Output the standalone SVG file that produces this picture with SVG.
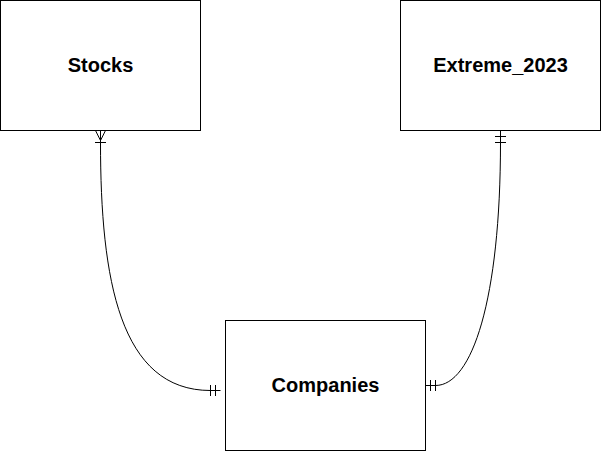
<svg xmlns="http://www.w3.org/2000/svg" width="601" height="451" viewBox="0 0 601 451">
<style>
.box{fill:#ffffff;stroke:#000000;stroke-width:1}
.lbl{font-family:"Liberation Sans",Arial,Helvetica,sans-serif;font-weight:bold;font-size:20px;fill:#000000;text-anchor:middle}
.edge{fill:none;stroke:#000000;stroke-width:1}
</style>
<rect width="601" height="451" fill="#ffffff"/>
<g id="connectors">
  <g id="edge-stocks-companies">
    <path class="edge" d="M100.5,130.5 L100.5,142.5 C100.5,280 120,390.5 210.5,390.5 L220.5,390.5"/>
    <path class="edge" d="M95.5,130.5 L100.5,140.5 L105.5,130.5"/>
    <path class="edge" d="M95,142.5 L106,142.5"/>
    <path class="edge" d="M210.5,385 L210.5,396 M215.5,385 L215.5,396"/>
  </g>
  <g id="edge-extreme-companies">
    <path class="edge" d="M500.5,130.5 L500.5,142.5 C500.5,300 472,385.5 435.5,385.5 L425.5,385.5"/>
    <path class="edge" d="M495,136.5 L506,136.5 M495,142.5 L506,142.5"/>
    <path class="edge" d="M430.5,380 L430.5,391 M435.5,380 L435.5,391"/>
  </g>
</g>
<g id="stocks">
  <rect class="box" x="0.5" y="0.5" width="200" height="130"/>
  <text class="lbl" x="100.5" y="72">Stocks</text>
</g>
<g id="extreme_2023">
  <rect class="box" x="400.5" y="0.5" width="200" height="130"/>
  <text class="lbl" x="500.5" y="72">Extreme_2023</text>
</g>
<g id="companies">
  <rect class="box" x="225.5" y="320.5" width="200" height="130"/>
  <text class="lbl" x="325.5" y="392">Companies</text>
</g>
</svg>
